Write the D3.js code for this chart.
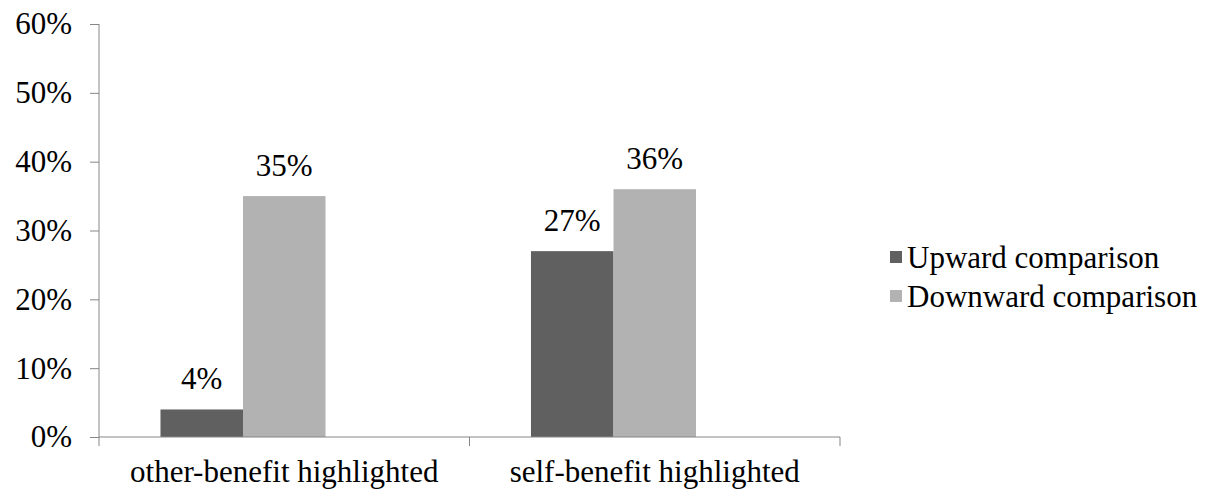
<!DOCTYPE html>
<html>
<head>
<meta charset="utf-8">
<script src="https://cdn.jsdelivr.net/npm/d3@7"></script>
<style>
  html, body { margin: 0; padding: 0; background: #fff; }
  #chart text { font-family: "Liberation Serif", "Tinos", "Times New Roman", Times, "DejaVu Serif", serif; fill: #000; }
</style>
</head>
<body>
<svg id="chart" width="1215" height="493"></svg>
<script>
// Share of participants by comparison direction, per highlighting condition
const categories = ["other-benefit highlighted", "self-benefit highlighted"];
const seriesNames = ["Upward comparison", "Downward comparison"];
const upwardValues = [4, 27];
const downwardValues = [35, 36];
const yTicks = [0, 10, 20, 30, 40, 50, 60];
const seriesColors = ["#606060", "#b2b2b2"];

const seriesValues = [upwardValues, downwardValues];
const serifFont = "'Liberation Serif', Tinos, 'Times New Roman', Times, 'DejaVu Serif', serif";

const svg = d3.select("#chart").attr("font-family", serifFont);
const plotLeft = 99, plotRight = 840, plotTop = 24, plotBottom = 437;
const fontSize = 31;

const y = d3.scaleLinear().domain([0, 60]).range([plotBottom, plotTop]);
const x0 = d3.scaleBand().domain(categories).range([plotLeft, plotRight]).padding(0);
// Each category reserves three bar slots; only the first two carry data.
const x1 = d3.scaleBand().domain([0, 1, 2]).range([0, x0.bandwidth()])
  .paddingInner(0).paddingOuter(0.745);

// Bars and value labels
categories.forEach((cat, ci) => {
  const g = svg.append("g").attr("transform", `translate(${x0(cat)},0)`);
  const rows = seriesValues.map((vals, si) => ({ si, v: vals[ci] }));
  g.selectAll("rect")
    .data(rows)
    .join("rect")
    .attr("x", d => x1(d.si))
    .attr("width", x1.bandwidth())
    .attr("y", d => y(d.v))
    .attr("height", d => y(0) - y(d.v))
    .attr("fill", d => seriesColors[d.si]);
  g.selectAll("text.val")
    .data(rows)
    .join("text")
    .attr("class", "val")
    .attr("x", d => x1(d.si) + x1.bandwidth() / 2)
    .attr("y", d => y(d.v) - 20)
    .attr("text-anchor", "middle")
    .attr("font-size", fontSize)
    .text(d => d.v + "%");
});

// Y axis
const yAxis = d3.axisLeft(y).tickValues(yTicks).tickFormat(d => d + "%").tickSize(9).tickPadding(18);
const gy = svg.append("g").attr("transform", `translate(${plotLeft},0)`).call(yAxis)
  .attr("font-family", serifFont).attr("font-size", fontSize);
gy.selectAll("path, line").attr("stroke", "#868686");
gy.select(".domain").attr("d", `M0,${plotTop}V${plotBottom}`);
gy.selectAll("text").attr("fill", "#000");

// X axis: baseline with separator ticks between categories
const gx = svg.append("g");
gx.append("line").attr("x1", plotLeft).attr("x2", plotRight).attr("y1", plotBottom).attr("y2", plotBottom)
  .attr("stroke", "#868686");
const sepPositions = [plotLeft].concat(categories.map(c => x0(c) + x0.bandwidth()));
gx.selectAll("line.sep").data(sepPositions).join("line").attr("class", "sep")
  .attr("x1", d => d).attr("x2", d => d).attr("y1", plotBottom).attr("y2", plotBottom + 9)
  .attr("stroke", "#868686");
gx.selectAll("text").data(categories).join("text")
  .attr("x", d => x0(d) + x0.bandwidth() / 2)
  .attr("y", 482)
  .attr("text-anchor", "middle")
  .attr("font-size", fontSize)
  .text(d => d);

// Legend
const legend = svg.append("g").attr("transform", "translate(890,0)");
const legendY = [257, 296];
seriesNames.forEach((name, i) => {
  legend.append("rect").attr("x", 0).attr("y", legendY[i] - 6).attr("width", 12).attr("height", 12)
    .attr("fill", seriesColors[i]);
  legend.append("text").attr("x", 17).attr("y", legendY[i]).attr("dy", "0.35em")
    .attr("font-size", fontSize).text(name);
});
</script>
</body>
</html>
